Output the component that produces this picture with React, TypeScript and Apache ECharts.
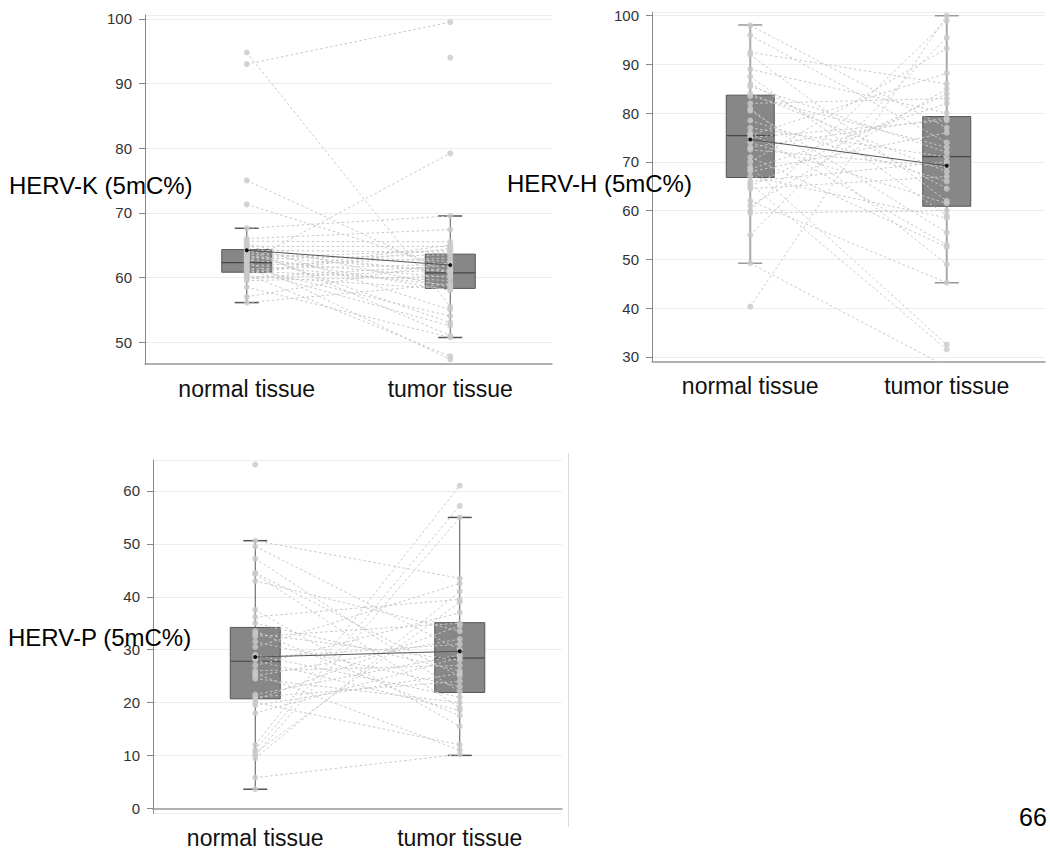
import React, { useEffect, useRef } from 'react';
import * as echarts from 'echarts';

// Paired 5mC% measurements per sample (normal tissue, tumor tissue); null = no partner value.
const CATEGORIES = ['normal tissue', 'tumor tissue'];

const K_NORMAL = [93.0, 94.8, 75.0, 71.3, 67.6, 66.0, 65.6, 65.2, 64.8, 64.5, 64.2, 63.9, 63.6, 63.3, 63.0, 62.7, 62.5, 62.3, 62.0, 61.8, 61.5, 61.3, 61.0, 60.8, 60.5, 60.2, 60.0, 59.5, 58.5, 57.0, 56.1, 62.8, 61.2, 64.0, 63.4, 60.6, 59.8, 65.0, null];
const K_TUMOR = [99.5, 55.5, 60.5, 61.5, 69.5, 67.4, 65.5, 58.5, 64.8, 51.0, 63.9, 53.0, 62.5, 61.0, 64.2, 60.0, 47.3, 79.2, 58.8, 63.0, 54.0, 62.0, 59.5, 65.0, 47.8, 58.2, 61.8, 60.2, 50.7, 62.3, 59.0, 63.5, 52.5, 60.8, 58.0, 64.5, 61.2, 55.0, 94.0];

const H_NORMAL = [98.0, 96.0, 92.5, 92.0, 89.0, 87.5, 86.0, 85.5, 84.0, 82.0, 81.0, 80.5, 78.5, 77.0, 76.0, 75.5, 75.0, 74.0, 72.5, 70.0, 69.0, 68.5, 68.0, 67.0, 66.0, 65.5, 65.0, 64.5, 61.0, 60.0, 59.5, 55.0, 49.2, 40.3, 83.5, 71.0, 62.0, 73.0];
const H_TUMOR = [77.0, 74.0, 86.0, 62.0, 80.0, 59.0, 64.5, 72.0, 68.0, 83.0, 49.0, 55.5, 66.0, 71.0, 53.0, 88.2, 78.5, 61.5, 69.0, 93.3, 32.5, 82.0, 76.0, 58.5, 70.0, 31.5, 84.0, 67.0, 85.0, 99.0, 60.0, 95.5, 28.0, 100.0, 73.0, 52.5, 45.2, 79.0];

const P_NORMAL = [65.0, 50.6, 49.5, 47.2, 44.5, 44.3, 43.0, 37.5, 36.2, 35.0, 33.5, 33.0, 32.5, 31.5, 30.5, 29.0, 28.5, 28.0, 27.0, 26.0, 25.5, 25.0, 24.5, 21.5, 21.0, 20.5, 20.0, 19.5, 18.0, 12.0, 11.0, 10.5, 10.0, 9.5, 5.8, 3.6];
const P_TUMOR = [null, 43.5, 30.0, 22.0, 25.0, 19.0, 33.5, 15.5, 39.5, 26.0, 17.5, 28.0, 35.0, 23.0, 42.5, 21.0, 31.0, 18.5, 37.0, 27.0, 11.0, 32.0, 20.0, 29.0, 24.0, 34.5, 12.0, 25.5, 28.5, 61.0, 57.2, 39.0, 55.0, 41.0, 10.2, null];

// Box statistics: [lower whisker, Q1, median, Q3, upper whisker] for normal, tumor
const K_BOX = [[56.1, 60.8, 62.3, 64.3, 67.6], [50.7, 58.3, 60.7, 63.6, 69.5]];
const H_BOX = [[49.2, 66.8, 75.4, 83.7, 98.1], [45.2, 60.9, 71.1, 79.3, 100.0]];
const P_BOX = [[3.6, 20.7, 27.8, 34.2, 50.6], [10.0, 21.9, 28.4, 35.1, 55.0]];

// Group means (normal, tumor)
const K_MEAN = [64.2, 61.9];
const H_MEAN = [74.6, 69.2];
const P_MEAN = [28.6, 29.7];

const Y_TITLES = ['HERV-K (5mC%)', 'HERV-H (5mC%)', 'HERV-P (5mC%)'];

type Panel = {
  normal: (number | null)[];
  tumor: (number | null)[];
  box: number[][];
  mean: number[];
  grid: { left: number; top: number; width: number; height: number };
  yMin: number;
  yMax: number;
  splitNumber: number;
  boxHalf: number;
  whiskerColor: string;
  capColor: string;
  whiskerWidth: number;
};

const PANELS: Panel[] = [
  {
    normal: K_NORMAL, tumor: K_TUMOR, box: K_BOX, mean: K_MEAN,
    grid: { left: 145, top: 15, width: 407, height: 349 },
    yMin: 46.6, yMax: 100.6, splitNumber: 5, boxHalf: 25,
    whiskerColor: '#555', capColor: '#555', whiskerWidth: 1,
  },
  {
    normal: H_NORMAL, tumor: H_TUMOR, box: H_BOX, mean: H_MEAN,
    grid: { left: 652, top: 12.3, width: 393, height: 349.4 },
    yMin: 29.0, yMax: 100.7, splitNumber: 7, boxHalf: 24,
    whiskerColor: '#a9a9a9', capColor: '#999', whiskerWidth: 2,
  },
  {
    normal: P_NORMAL, tumor: P_TUMOR, box: P_BOX, mean: P_MEAN,
    grid: { left: 153, top: 460, width: 409, height: 353.3 },
    yMin: -0.95, yMax: 65.86, splitNumber: 7, boxHalf: 25,
    whiskerColor: '#555', capColor: '#555', whiskerWidth: 1,
  },
];

const DOT = '#c9c9c9';
const CAP_HALF = 12;
const FONT = 'Liberation Sans, Arial, sans-serif';

function buildOption() {
  const grids: any[] = [];
  const xAxes: any[] = [];
  const yAxes: any[] = [];
  const series: any[] = [];

  PANELS.forEach((p, k) => {
    grids.push({ ...p.grid, containLabel: false });
    xAxes.push({
      type: 'category',
      gridIndex: k,
      data: CATEGORIES,
      boundaryGap: true,
      axisLine: { lineStyle: { color: '#999', width: 1.5 } },
      axisTick: { alignWithLabel: true, length: 5, lineStyle: { color: '#888' } },
      axisLabel: { color: '#111', fontSize: 23, fontFamily: FONT, margin: 13 },
      splitLine: { show: false },
    });
    yAxes.push({
      type: 'value',
      gridIndex: k,
      min: p.yMin,
      max: p.yMax,
      splitNumber: p.splitNumber,
      axisLine: { show: true, lineStyle: { color: '#888' } },
      axisTick: { show: true, length: 6, lineStyle: { color: '#888' } },
      axisLabel: {
        color: '#333',
        fontSize: 15,
        fontFamily: FONT,
        margin: 13,
        showMinLabel: false,
        showMaxLabel: false,
      },
      splitLine: { show: true, lineStyle: { color: '#ededed', width: 1 } },
    });

    const half = p.boxHalf;

    // boxes with whiskers
    series.push({
      type: 'custom',
      xAxisIndex: k,
      yAxisIndex: k,
      z: 1,
      silent: true,
      encode: { x: 0, y: [1, 2, 3, 4, 5] },
      data: p.box.map((b, i) => [i, ...b]),
      renderItem: (params: any, api: any) => {
        const i = api.value(0);
        const lo = api.coord([i, api.value(1)]);
        const cx = lo[0];
        const yLo = lo[1];
        const yQ1 = api.coord([i, api.value(2)])[1];
        const yMed = api.coord([i, api.value(3)])[1];
        const yQ3 = api.coord([i, api.value(4)])[1];
        const yHi = api.coord([i, api.value(5)])[1];
        const ws = { stroke: p.whiskerColor, lineWidth: p.whiskerWidth };
        const cs = { stroke: p.capColor, lineWidth: 1.5 };
        return {
          type: 'group',
          children: [
            { type: 'line', shape: { x1: cx, y1: yHi, x2: cx, y2: yLo }, style: ws },
            { type: 'line', shape: { x1: cx - CAP_HALF, y1: yHi, x2: cx + CAP_HALF, y2: yHi }, style: cs },
            { type: 'line', shape: { x1: cx - CAP_HALF, y1: yLo, x2: cx + CAP_HALF, y2: yLo }, style: cs },
            {
              type: 'rect',
              shape: { x: cx - half, y: yQ3, width: half * 2, height: yQ1 - yQ3 },
              style: { fill: '#878787', stroke: '#555', lineWidth: 1 },
            },
            { type: 'line', shape: { x1: cx - half, y1: yMed, x2: cx + half, y2: yMed }, style: { stroke: '#474747', lineWidth: 1.2 } },
          ],
        };
      },
    });

    // paired connecting lines
    p.normal.forEach((n, i) => {
      const t = p.tumor[i];
      if (n == null || t == null) return;
      series.push({
        type: 'line',
        xAxisIndex: k,
        yAxisIndex: k,
        z: 2,
        silent: true,
        symbol: 'none',
        data: [n, t],
        lineStyle: { color: '#c8c8c8', width: 1, type: [2.5, 2.5] },
      });
    });

    // individual values
    series.push({
      type: 'scatter',
      xAxisIndex: k,
      yAxisIndex: k,
      z: 3,
      silent: true,
      symbolSize: 6,
      itemStyle: { color: DOT },
      data: [
        ...p.normal.filter((v) => v != null).map((v) => [0, v]),
        ...p.tumor.filter((v) => v != null).map((v) => [1, v]),
      ],
    });

    // mean line
    series.push({
      type: 'line',
      xAxisIndex: k,
      yAxisIndex: k,
      z: 5,
      silent: true,
      symbol: 'circle',
      symbolSize: 4,
      itemStyle: { color: '#111' },
      lineStyle: { color: '#555', width: 1 },
      data: p.mean,
    });
  });

  const titleFont = { fontSize: 24, fontFamily: FONT, fill: '#000' };

  return {
    animation: false,
    backgroundColor: '#fff',
    grid: grids,
    xAxis: xAxes,
    yAxis: yAxes,
    series,
    graphic: [
      { type: 'text', left: 9, top: 173, z: 10, style: { ...titleFont, text: Y_TITLES[0] } },
      { type: 'text', left: 507, top: 171, z: 10, style: { ...titleFont, text: Y_TITLES[1] } },
      { type: 'text', left: 8, top: 625, z: 10, style: { ...titleFont, text: Y_TITLES[2] } },
      { type: 'text', left: 1019, top: 804, z: 10, style: { ...titleFont, fontSize: 25, text: '66' } },
      { type: 'line', z: 0, shape: { x1: 568.5, y1: 453, x2: 568.5, y2: 827 }, style: { stroke: '#dddddd', lineWidth: 1 } },
    ],
  };
}

export default function App() {
  const ref = useRef<HTMLDivElement>(null);
  useEffect(() => {
    if (!ref.current) return;
    const chart = echarts.init(ref.current, null, { renderer: 'svg' });
    chart.setOption(buildOption());
    return () => chart.dispose();
  }, []);
  return (
    <div
      ref={ref}
      style={{ position: 'fixed', left: 0, top: 0, width: 1050, height: 852, background: '#fff' }}
    />
  );
}
